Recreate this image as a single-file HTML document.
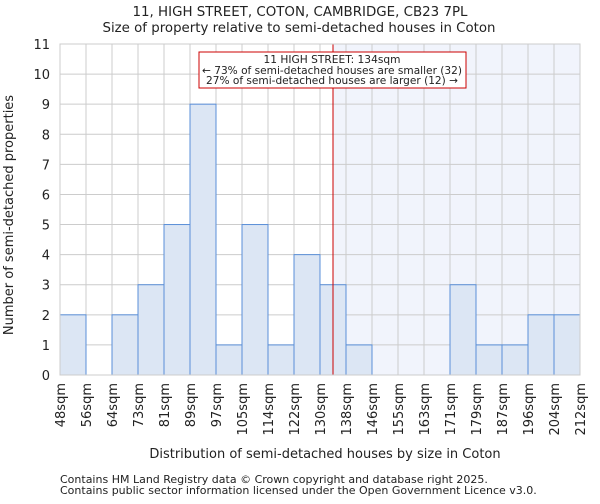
<!DOCTYPE html>
<html><head><meta charset="utf-8"><style>
body{margin:0;background:#fff;font-family:"DejaVu Sans","Liberation Sans",sans-serif}
svg text{font-family:"DejaVu Sans","Liberation Sans",sans-serif;fill:#222}
</style></head><body>
<svg id="c" width="600" height="500"></svg>
<script>
const categories=["48sqm","56sqm","64sqm","73sqm","81sqm","89sqm","97sqm","105sqm","114sqm","122sqm","130sqm","138sqm","146sqm","155sqm","163sqm","171sqm","179sqm","187sqm","196sqm","204sqm","212sqm"];
const counts=[2,0,2,3,5,9,1,5,1,4,3,1,0,0,0,3,1,1,2,2];
const yTicks=[0,1,2,3,4,5,6,7,8,9,10,11];
const markerBin=10.5;
const svg=document.getElementById('c');const NS='http://www.w3.org/2000/svg';
const L=60,R=580,T=44,B=375,yMax=11;
const bw=(R-L)/counts.length;
const x=i=>L+i*bw, y=v=>B-v*(B-T)/yMax;
function mk(t,a,p){const e=document.createElementNS(NS,t);for(const k in a)e.setAttribute(k,a[k]);(p||svg).appendChild(e);return e;}
let e;
e=mk('rect',{x:x(markerBin),y:T,width:R-x(markerBin),height:B-T,fill:'#f1f4fc'});


yTicks.forEach(v=>{e=mk('line',{x1:L,x2:R,y1:y(v),y2:y(v),stroke:'#cccccc'});


e=mk('text',{x:L-10,y:y(v)+5,'text-anchor':'end','font-size':13});e.textContent=v;

});
categories.forEach((c,i)=>{e=mk('line',{x1:x(i),x2:x(i),y1:T,y2:B,stroke:'#cccccc'});


e=mk('text',{x:0,y:0,'text-anchor':'end','font-size':13,transform:`translate(${x(i)+5},${B+8}) rotate(-90)`});e.textContent=c;

});
counts.forEach((v,i)=>{if(!v)return;e=mk('rect',{x:x(i),y:y(v),width:bw,height:B-y(v),fill:'#dce6f4',stroke:'#5a8fd8','stroke-width':1});

});
e=mk('line',{x1:x(markerBin),x2:x(markerBin),y1:T,y2:B,stroke:'#cc0000','stroke-width':1});


e=mk('rect',{x:199,y:52,width:267,height:36,fill:'#fff',stroke:'#cc0000'});


[["11 HIGH STREET: 134sqm",63,137],["← 73% of semi-detached houses are smaller (32)",74,260],["27% of semi-detached houses are larger (12) →",84,252]].forEach(a=>{e=mk('text',{x:332,y:a[1],'text-anchor':'middle','font-size':10.5,textLength:a[2],lengthAdjust:'spacingAndGlyphs'});e.textContent=a[0];

});
e=mk('rect',{x:L,y:T,width:R-L,height:B-T,fill:'none',stroke:'#cccccc'});


e=mk('text',{x:300,y:16,'text-anchor':'middle','font-size':13.5,textLength:335,lengthAdjust:'spacingAndGlyphs'});e.textContent="11, HIGH STREET, COTON, CAMBRIDGE, CB23 7PL";


e=mk('text',{x:299,y:32,'text-anchor':'middle','font-size':13.3,textLength:393,lengthAdjust:'spacingAndGlyphs'});e.textContent="Size of property relative to semi-detached houses in Coton";


e=mk('text',{x:325,y:458,'text-anchor':'middle','font-size':13});e.textContent="Distribution of semi-detached houses by size in Coton";


e=mk('text',{x:0,y:0,'text-anchor':'middle','font-size':13,transform:'translate(13,215) rotate(-90)'});e.textContent="Number of semi-detached properties";


e=mk('text',{x:60,y:483,'font-size':11,fill:'#444'});e.textContent="Contains HM Land Registry data © Crown copyright and database right 2025.";


e=mk('text',{x:60,y:494,'font-size':11,fill:'#444'});e.textContent="Contains public sector information licensed under the Open Government Licence v3.0.";


</script>
</body></html>
